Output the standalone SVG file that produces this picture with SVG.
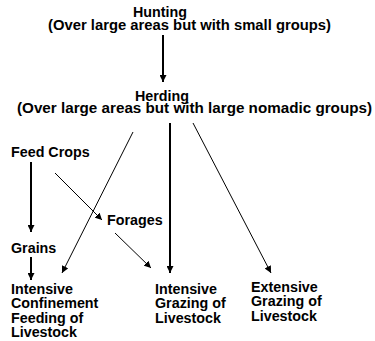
<svg xmlns="http://www.w3.org/2000/svg" width="375" height="341" viewBox="0 0 375 341">
<style>
text{font-family:"Liberation Sans",Arial,sans-serif;font-weight:bold;font-size:14.3px;fill:#000}
.thick{stroke:#000;stroke-width:2;fill:none}
.thin{stroke:#000;stroke-width:1;fill:none}
</style>
<defs>
<marker id="ah" viewBox="0 0 10 10" refX="10" refY="5" markerUnits="userSpaceOnUse" markerWidth="7" markerHeight="7" orient="auto"><path d="M0,0 L10,5 L0,10 z" fill="#000"/></marker>
</defs>
<rect width="375" height="341" fill="#fff"/>
<g id="hunting"><text x="133" y="17">Hunting</text><text x="48" y="29.5" textLength="283" lengthAdjust="spacingAndGlyphs">(Over large areas but with small groups)</text></g>
<g id="herding"><text x="135" y="100.5">Herding</text><text x="17" y="113" textLength="355" lengthAdjust="spacingAndGlyphs">(Over large areas but with large nomadic groups)</text></g>
<g id="feedcrops"><text x="11" y="157">Feed Crops</text></g>
<g id="forages"><text x="107" y="225">Forages</text></g>
<g id="grains"><text x="11" y="252.7">Grains</text></g>
<g id="confinement"><text x="11" y="293.5">Intensive</text><text x="11" y="308">Confinement</text><text x="11" y="322.5">Feeding of</text><text x="11" y="337">Livestock</text></g>
<g id="intgrazing"><text x="155" y="293.5">Intensive</text><text x="155" y="308">Grazing of</text><text x="155" y="322.5">Livestock</text></g>
<g id="extgrazing"><text x="251" y="291.5">Extensive</text><text x="251" y="306">Grazing of</text><text x="251" y="320.5">Livestock</text></g>
<g id="connectors">
<line class="thick" x1="163" y1="35" x2="163" y2="82" marker-end="url(#ah)"/>
<line class="thin" x1="133" y1="132" x2="62" y2="273" marker-end="url(#ah)"/>
<line class="thick" x1="170" y1="123" x2="170" y2="273" marker-end="url(#ah)"/>
<line class="thin" x1="193" y1="123" x2="271" y2="273" marker-end="url(#ah)"/>
<line class="thick" x1="31" y1="162" x2="31" y2="232" marker-end="url(#ah)"/>
<line class="thin" x1="55" y1="173" x2="102" y2="220" marker-end="url(#ah)"/>
<line class="thick" x1="31" y1="257" x2="31" y2="280" marker-end="url(#ah)"/>
<line class="thin" x1="115" y1="233" x2="151" y2="268" marker-end="url(#ah)"/>
</g>
</svg>
